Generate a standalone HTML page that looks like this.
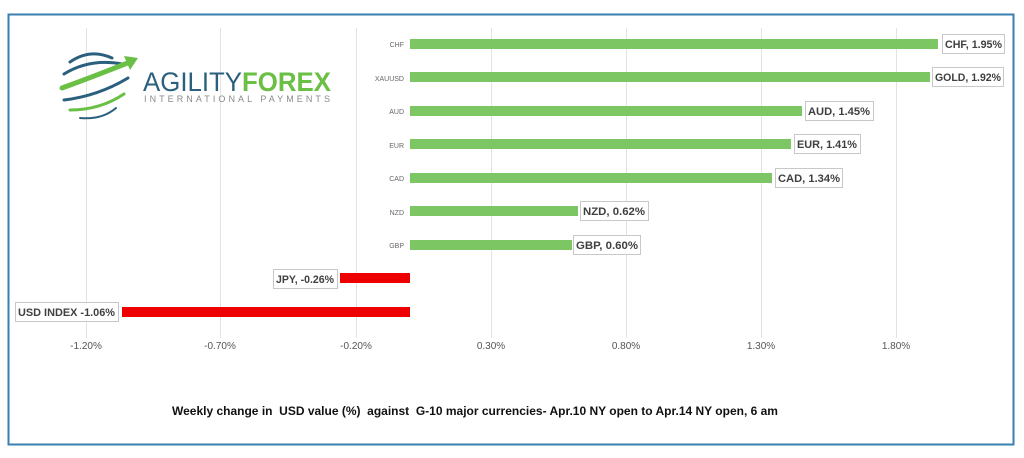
<!DOCTYPE html>
<html><head><meta charset="utf-8"><style>
html,body{margin:0;padding:0;background:#fff;}
svg{display:block;font-family:"Liberation Sans",Arial,sans-serif;}
</style></head><body>
<svg width="1024" height="458" viewBox="0 0 1024 458">
<rect x="0" y="0" width="1024" height="458" fill="#fff"/>
<rect x="8.5" y="14.5" width="1005" height="430" fill="#fff" stroke="#3a7fb0" stroke-width="2"/>
<g stroke="#e3e3e3" stroke-width="1">
<line x1="86.5" y1="28" x2="86.5" y2="338"/>
<line x1="220.5" y1="28" x2="220.5" y2="338"/>
<line x1="356.5" y1="28" x2="356.5" y2="338"/>
<line x1="491.5" y1="28" x2="491.5" y2="338"/>
<line x1="626.5" y1="28" x2="626.5" y2="338"/>
<line x1="761.5" y1="28" x2="761.5" y2="338"/>
<line x1="896.5" y1="28" x2="896.5" y2="338"/>
</g>
<!-- logo -->
<g fill="none" stroke-linecap="round">
<path d="M70 62 Q90 48 112 58" stroke="#2b5f7e" stroke-width="3"/>
<path d="M64 74 Q90 58 122 64" stroke="#2b5f7e" stroke-width="3"/>
<path d="M62 88 Q95 76 130 62" stroke="#6abf45" stroke-width="5"/>
<path d="M64 100 Q98 96 128 78" stroke="#2b5f7e" stroke-width="3"/>
<path d="M70 110 Q100 110 124 94" stroke="#6abf45" stroke-width="3"/>
<path d="M80 118 Q102 120 116 108" stroke="#2b5f7e" stroke-width="2"/>
</g>
<polygon points="124,56 138,58 130,70" fill="#6abf45"/>
<text x="143" y="91" font-size="27" fill="#2b5f7e" textLength="188" lengthAdjust="spacingAndGlyphs">AGILITY<tspan fill="#6abf45" font-weight="bold">FOREX</tspan></text>
<text x="144" y="102" font-size="9" fill="#8a8a8a" textLength="186" lengthAdjust="spacing">INTERNATIONAL PAYMENTS</text>
<!-- category labels -->
<g font-size="7" fill="#666" text-anchor="end">
<text x="404" y="47">CHF</text>
<text x="404" y="81">XAUUSD</text>
<text x="404" y="114">AUD</text>
<text x="404" y="148">EUR</text>
<text x="404" y="181">CAD</text>
<text x="404" y="215">NZD</text>
<text x="404" y="248">GBP</text>
</g>
<!-- green bars -->
<g fill="#7cc663">
<rect x="410" y="39" width="528" height="10"/>
<rect x="410" y="72" width="520" height="10"/>
<rect x="410" y="106" width="392" height="10"/>
<rect x="410" y="139" width="381" height="10"/>
<rect x="410" y="173" width="362" height="10"/>
<rect x="410" y="206" width="168" height="10"/>
<rect x="410" y="240" width="162" height="10"/>
</g>
<g fill="#ee0000">
<rect x="340" y="273" width="70" height="10"/>
<rect x="122" y="307" width="288" height="10"/>
</g>
<!-- labels -->
<g font-size="11" font-weight="bold" fill="#404040">
<rect x="942.5" y="34.5" width="62" height="19" fill="#fff" stroke="#c8c8c8"/>
<text x="945" y="48" textLength="57" lengthAdjust="spacingAndGlyphs">CHF, 1.95%</text>
<rect x="932.5" y="67.5" width="71" height="19" fill="#fff" stroke="#c8c8c8"/>
<text x="935" y="81" textLength="66" lengthAdjust="spacingAndGlyphs">GOLD, 1.92%</text>
<rect x="805.5" y="101.5" width="68" height="19" fill="#fff" stroke="#c8c8c8"/>
<text x="808" y="115" textLength="62" lengthAdjust="spacingAndGlyphs">AUD, 1.45%</text>
<rect x="794.5" y="134.5" width="66" height="19" fill="#fff" stroke="#c8c8c8"/>
<text x="797" y="148" textLength="60" lengthAdjust="spacingAndGlyphs">EUR, 1.41%</text>
<rect x="775.5" y="168.5" width="67" height="19" fill="#fff" stroke="#c8c8c8"/>
<text x="778" y="182" textLength="62" lengthAdjust="spacingAndGlyphs">CAD, 1.34%</text>
<rect x="580.5" y="201.5" width="68" height="19" fill="#fff" stroke="#c8c8c8"/>
<text x="583" y="215" textLength="62" lengthAdjust="spacingAndGlyphs">NZD, 0.62%</text>
<rect x="573.5" y="235.5" width="67" height="19" fill="#fff" stroke="#c8c8c8"/>
<text x="576" y="249" textLength="62" lengthAdjust="spacingAndGlyphs">GBP, 0.60%</text>
<rect x="273.5" y="269.5" width="64" height="19" fill="#fff" stroke="#c8c8c8"/>
<text x="276" y="283" textLength="58" lengthAdjust="spacingAndGlyphs">JPY, -0.26%</text>
<rect x="15.5" y="302.5" width="103" height="19" fill="#fff" stroke="#c8c8c8"/>
<text x="18" y="316" textLength="97" lengthAdjust="spacingAndGlyphs">USD INDEX -1.06%</text>
</g>
<!-- x axis labels -->
<g font-size="10" fill="#555" text-anchor="middle">
<text x="86" y="349">-1.20%</text>
<text x="220" y="349">-0.70%</text>
<text x="356" y="349">-0.20%</text>
<text x="491" y="349">0.30%</text>
<text x="626" y="349">0.80%</text>
<text x="761" y="349">1.30%</text>
<text x="896" y="349">1.80%</text>
</g>
<text x="475" y="415" font-size="12" font-weight="bold" fill="#111" text-anchor="middle" xml:space="preserve">Weekly change in  USD value (%)  against  G-10 major currencies- Apr.10 NY open to Apr.14 NY open, 6 am</text>
</svg>
</body></html>
